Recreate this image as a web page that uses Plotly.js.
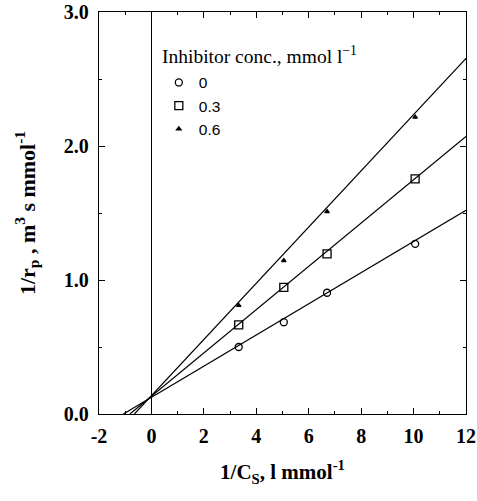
<!DOCTYPE html>
<html><head><meta charset="utf-8">
<script src="https://cdn.plot.ly/plotly-3.0.1.min.js"></script>
<style>html,body{margin:0;padding:0;background:#fff}#chart{width:477px;height:501px}</style>
</head><body><div id="chart"></div>
<script>
// Data
const invCs = [3.33, 5.05, 6.70, 10.06];
const series0 = [0.50, 0.685, 0.905, 1.27];   // inhibitor 0
const series03 = [0.665, 0.945, 1.195, 1.755]; // inhibitor 0.3
const series06 = [0.81, 1.145, 1.51, 2.215];   // inhibitor 0.6
const legendNames = ['0', '0.3', '0.6'];
const legendTitle = 'Inhibitor conc., mmol l<sup>−1</sup>';
// fitted lines: x-intercepts and slopes
const fitXIntercepts = [-1.07, -0.82, -0.65];
const fitSlopes = [0.1163, 0.1615, 0.2098];
const fitXEnd = 12;
const xTickVals = [-2, 0, 2, 4, 6, 8, 10, 12];
const xTickText = ['-2', '0', '2', '4', '6', '8', '10', '12'];
const yTickVals = [0, 1, 2, 3];
const yTickText = ['0.0', '1.0', '2.0', '3.0'];

const symbols = ['circle-open', 'square-open', 'triangle-up'];
const sizes = [7, 8, 4];
const ys = [series0, series03, series06];
const traces = [];
for (let i = 0; i < 3; i++) {
  const x0 = fitXIntercepts[i];
  traces.push({
    x: [x0, fitXEnd], y: [0, fitSlopes[i] * (fitXEnd - x0)],
    mode: 'lines', line: {color: '#000', width: 1.2}, showlegend: false, hoverinfo: 'skip'
  });
}
for (let i = 0; i < 3; i++) {
  traces.push({
    x: invCs, y: ys[i], name: legendNames[i], mode: 'markers',
    marker: {symbol: symbols[i], size: sizes[i], color: '#000', line: {color: '#000', width: 1.3}}
  });
}
const serif = 'Liberation Serif, Times New Roman, serif';
const layout = {
  width: 477, height: 501,
  margin: {l: 99, r: 11, t: 12, b: 87},
  paper_bgcolor: '#fff', plot_bgcolor: '#fff',
  showlegend: true,
  legend: {
    x: 0.163, y: 0.866, xanchor: 'left', yanchor: 'top',
    bgcolor: 'rgba(0,0,0,0)',
    font: {family: 'Liberation Sans, Arial, sans-serif', size: 15.5, color: '#000'},
    tracegroupgap: 0, itemwidth: 30
  },
  annotations: [{
    xref: 'paper', yref: 'paper', x: 0.166, y: 0.893, xanchor: 'left', yanchor: 'middle',
    showarrow: false, text: legendTitle, font: {family: serif, size: 19.5, color: '#000'}
  }],
  xaxis: {
    range: [-2, 12], tickmode: 'array', tickvals: xTickVals, ticktext: xTickText.map(t => '<b>' + t + '</b>'),
    ticks: 'inside', ticklen: 6, tickwidth: 1, tickcolor: '#000',
    minor: {dtick: 1, tick0: 0, ticks: 'inside', ticklen: 3, tickcolor: '#000', showgrid: false},
    showline: true, linecolor: '#000', linewidth: 1.2, mirror: 'ticks',
    showgrid: false, zeroline: true, zerolinecolor: '#000', zerolinewidth: 1,
    tickfont: {family: serif, size: 20, color: '#000'},
    ticklabelstandoff: 4,
    title: {text: '<b>1/C<sub>S</sub>, l mmol<sup>-1</sup></b>', font: {family: serif, size: 21, color: '#000'}, standoff: 18}
  },
  yaxis: {
    range: [0, 3], tickmode: 'array', tickvals: yTickVals, ticktext: yTickText.map(t => '<b>' + t + '</b>'),
    ticks: 'inside', ticklen: 6, tickwidth: 1, tickcolor: '#000',
    minor: {dtick: 0.5, tick0: 0, ticks: 'inside', ticklen: 3, tickcolor: '#000', showgrid: false},
    showline: true, linecolor: '#000', linewidth: 1.2, mirror: 'ticks',
    showgrid: false, zeroline: false,
    tickfont: {family: serif, size: 20, color: '#000'},
    ticklabelstandoff: 5,
    title: {text: '<b>1/r<sub>p</sub> , m<sup>3</sup> s mmol<sup>-1</sup></b>', font: {family: serif, size: 22, color: '#000'}, standoff: 22}
  }
};
Plotly.newPlot('chart', traces, layout, {displayModeBar: false, staticPlot: true});
</script></body></html>
